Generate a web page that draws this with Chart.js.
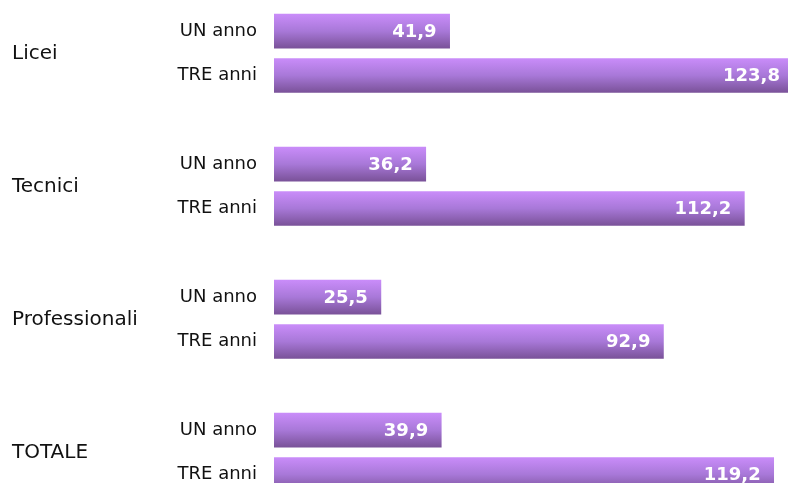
<!DOCTYPE html>
<html>
<head>
<meta charset="utf-8">
<script src="https://cdn.jsdelivr.net/npm/chart.js@4.4.1/dist/chart.umd.min.js"></script>
<style>
    html, body { margin: 0; padding: 0; background: #ffffff; overflow: hidden; }
    #wrap { position: relative; width: 800px; height: 545px; }
</style>
</head>
<body>
<div id="wrap"><canvas id="myChart"></canvas></div>
<script>
// dati
var groups = ['Licei', 'Tecnici', 'Professionali', 'TOTALE'];
var periods = ['UN anno', 'TRE anni'];
var unAnno = [41.9, 36.2, 25.5, 39.9];
var treAnni = [123.8, 112.2, 92.9, 119.2];

var labels = [];
var values = [];
for (var i = 0; i < groups.length; i++) {
    labels.push(periods[0], periods[1], '');
    values.push(unAnno[i], treAnni[i], null);
}

var fontFamily = '"DejaVu Sans", Verdana, sans-serif';

// etichette a sinistra: gruppi e periodi
var sideLabels = {
    id: 'sideLabels',
    afterDraw: function(chart) {
        var ctx = chart.ctx;
        var y = chart.scales.y;
        ctx.save();
        ctx.fillStyle = '#111111';
        ctx.textBaseline = 'middle';

        ctx.font = '20px ' + fontFamily;
        ctx.textAlign = 'left';
        for (var g = 0; g < groups.length; g++) {
            var yy = (y.getPixelForValue(g * 3) + y.getPixelForValue(g * 3 + 1)) / 2;
            ctx.fillText(groups[g], 12, yy);
        }

        ctx.font = '18px ' + fontFamily;
        ctx.textAlign = 'right';
        for (var k = 0; k < labels.length; k++) {
            if (labels[k] === '') continue;
            ctx.fillText(labels[k], 257, y.getPixelForValue(k));
        }
        ctx.restore();
    }
};

// valori dentro le barre
var valueLabels = {
    id: 'valueLabels',
    afterDatasetsDraw: function(chart) {
        var ctx = chart.ctx;
        var meta = chart.getDatasetMeta(0);
        ctx.save();
        ctx.font = 'bold 18px ' + fontFamily;
        ctx.fillStyle = '#ffffff';
        ctx.textAlign = 'right';
        ctx.textBaseline = 'middle';
        meta.data.forEach(function(bar, idx) {
            var v = values[idx];
            if (v === null) return;
            ctx.fillText(v.toFixed(1).replace('.', ','), bar.x - 13, bar.y + 1);
        });
        ctx.restore();
    }
};

var ctx = document.getElementById('myChart').getContext('2d');
var myChart = new Chart(ctx, {
    type: 'bar',
    data: {
        labels: labels,
        datasets: [{
            data: values,
            barThickness: 34,
            backgroundColor: function(context) {
                var chart = context.chart;
                var y = chart.scales.y;
                if (!chart.chartArea || !y) return '#a575d6';
                var c = y.getPixelForValue(context.dataIndex);
                var grad = chart.ctx.createLinearGradient(0, c - 17, 0, c + 17);
                grad.addColorStop(0, '#c98cf9');
                grad.addColorStop(0.5, '#a878d8');
                grad.addColorStop(1, '#7a5299');
                return grad;
            },
            borderWidth: 0
        }]
    },
    options: {
        indexAxis: 'y',
        responsive: true,
        maintainAspectRatio: false,
        animation: false,
        layout: { padding: { top: 9, right: 2, bottom: 4, left: 274 } },
        plugins: {
            legend: { display: false },
            tooltip: { enabled: false }
        },
        scales: {
            x: {
                display: false,
                min: 0,
                max: 125
            },
            y: {
                display: false
            }
        }
    },
    plugins: [sideLabels, valueLabels]
});
</script>
</body>
</html>
